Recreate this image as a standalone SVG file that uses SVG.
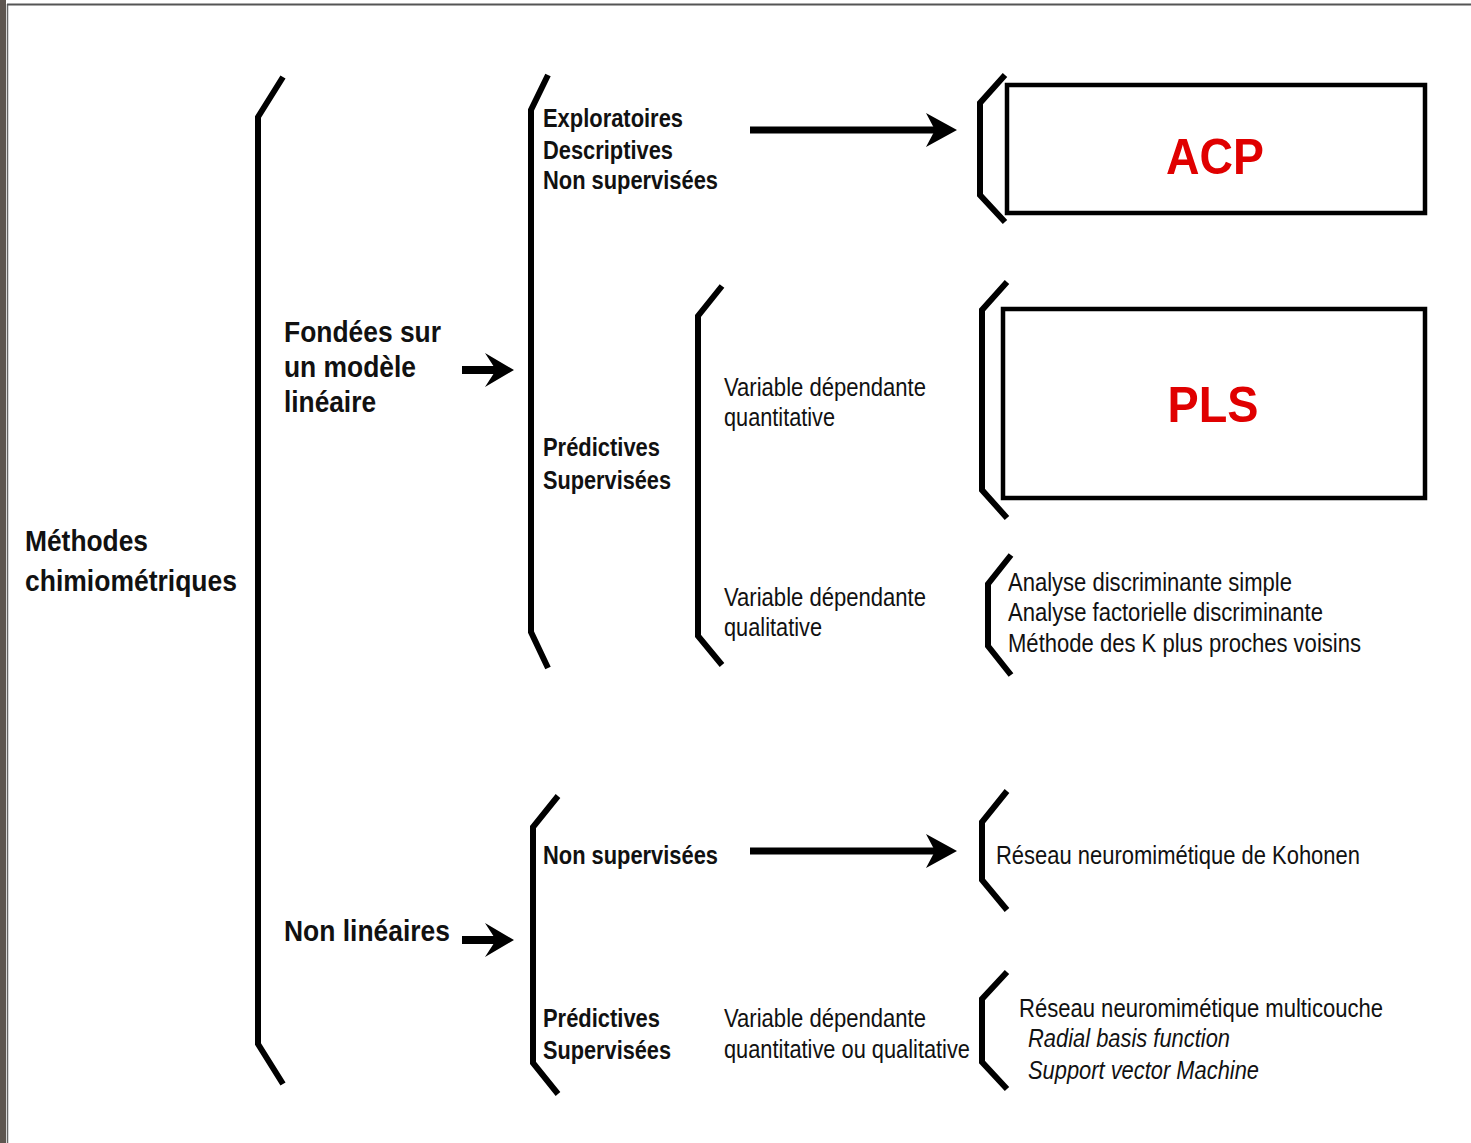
<svg xmlns="http://www.w3.org/2000/svg" width="1471" height="1143" viewBox="0 0 1471 1143">
<style>
.br{fill:none;stroke:#000;stroke-width:6;stroke-linejoin:miter;stroke-linecap:butt}
.box{fill:#fff;stroke:#000;stroke-width:4.5}
.big{font-family:"Liberation Sans",Arial,sans-serif;font-weight:bold;font-size:29px;fill:#111}
.mid{font-family:"Liberation Sans",Arial,sans-serif;font-weight:bold;font-size:25px;fill:#111}
.reg{font-family:"Liberation Sans",Arial,sans-serif;font-size:25px;fill:#111}
.it{font-family:"Liberation Sans",Arial,sans-serif;font-style:italic;font-size:25px;fill:#111}
.red{font-family:"Liberation Sans",Arial,sans-serif;font-weight:bold;font-size:50px;fill:#e00000;text-anchor:middle}
.shaft{stroke:#000;fill:none}
.head{fill:#000}
</style>
<rect x="0" y="0" width="1471" height="1143" fill="#fff"/>
<rect x="0" y="0" width="6" height="1143" fill="#5e5650"/>
<line x1="7.5" y1="4" x2="7.5" y2="1143" stroke="#666" stroke-width="1.5"/>
<line x1="7" y1="4.5" x2="1471" y2="4.5" stroke="#555" stroke-width="2"/>

<g id="connectors">
  <line class="shaft" x1="750" y1="130" x2="937" y2="130" stroke-width="7"/>
  <path class="head" d="M957,130 L926,113 L935,130 L926,147 Z"/>
  <line class="shaft" x1="750" y1="851" x2="937" y2="851" stroke-width="7"/>
  <path class="head" d="M957,851 L926,834 L935,851 L926,868 Z"/>
  <line class="shaft" x1="462" y1="370" x2="500" y2="370" stroke-width="8"/>
  <path class="head" d="M514,370 L485,353 L496,370 L485,387 Z"/>
  <line class="shaft" x1="462" y1="940" x2="500" y2="940" stroke-width="8"/>
  <path class="head" d="M514,940 L485,923 L496,940 L485,957 Z"/>
</g>

<g id="root">
  <polyline class="br" points="283,77 258,117 258,1044 283,1084"/>
  <text class="big" x="25" y="551" textLength="123" lengthAdjust="spacingAndGlyphs">Méthodes</text>
  <text class="big" x="25" y="591" textLength="212" lengthAdjust="spacingAndGlyphs">chimiométriques</text>
</g>

<g id="lineaire">
  <polyline class="br" points="548,75 531,110 531,632 548,668"/>
  <text class="big" x="284" y="342" textLength="157" lengthAdjust="spacingAndGlyphs">Fondées sur</text>
  <text class="big" x="284" y="377" textLength="132" lengthAdjust="spacingAndGlyphs">un modèle</text>
  <text class="big" x="284" y="412" textLength="92" lengthAdjust="spacingAndGlyphs">linéaire</text>
</g>

<g id="exploratoires">
  <text class="mid" x="543" y="127" textLength="140" lengthAdjust="spacingAndGlyphs">Exploratoires</text>
  <text class="mid" x="543" y="159" textLength="130" lengthAdjust="spacingAndGlyphs">Descriptives</text>
  <text class="mid" x="543" y="189" textLength="175" lengthAdjust="spacingAndGlyphs">Non supervisées</text>
</g>

<g id="acp">
  <polyline class="br" points="1005,75 980,103 980,195 1005,222"/>
  <rect class="box" x="1007" y="85" width="418" height="128"/>
  <text class="red" x="1215" y="174" textLength="98" lengthAdjust="spacingAndGlyphs">ACP</text>
</g>

<g id="predictives-lin">
  <polyline class="br" points="722,286 698,316 698,636 722,665"/>
  <text class="mid" x="543" y="456" textLength="117" lengthAdjust="spacingAndGlyphs">Prédictives</text>
  <text class="mid" x="543" y="489" textLength="128" lengthAdjust="spacingAndGlyphs">Supervisées</text>
</g>

<g id="quantitative">
  <text class="reg" x="724" y="396" textLength="202" lengthAdjust="spacingAndGlyphs">Variable dépendante</text>
  <text class="reg" x="724" y="426" textLength="111" lengthAdjust="spacingAndGlyphs">quantitative</text>
</g>

<g id="pls">
  <polyline class="br" points="1007,282 982,310 982,490 1007,518"/>
  <rect class="box" x="1003" y="309" width="422" height="189"/>
  <text class="red" x="1213" y="422" textLength="91" lengthAdjust="spacingAndGlyphs">PLS</text>
</g>

<g id="qualitative">
  <text class="reg" x="724" y="606" textLength="202" lengthAdjust="spacingAndGlyphs">Variable dépendante</text>
  <text class="reg" x="724" y="636" textLength="98" lengthAdjust="spacingAndGlyphs">qualitative</text>
</g>

<g id="discriminante">
  <polyline class="br" points="1011,555 988,584 988,646 1011,675"/>
  <text class="reg" x="1008" y="591" textLength="284" lengthAdjust="spacingAndGlyphs">Analyse discriminante simple</text>
  <text class="reg" x="1008" y="621" textLength="315" lengthAdjust="spacingAndGlyphs">Analyse factorielle discriminante</text>
  <text class="reg" x="1008" y="652" textLength="353" lengthAdjust="spacingAndGlyphs">Méthode des K plus proches voisins</text>
</g>

<g id="non-lineaires">
  <polyline class="br" points="558,796 533,827 533,1063 558,1094"/>
  <text class="big" x="284" y="941" textLength="166" lengthAdjust="spacingAndGlyphs">Non linéaires</text>
</g>

<g id="non-supervisees">
  <text class="mid" x="543" y="864" textLength="175" lengthAdjust="spacingAndGlyphs">Non supervisées</text>
</g>

<g id="kohonen">
  <polyline class="br" points="1007,791 982,822 982,880 1007,910"/>
  <text class="reg" x="996" y="864" textLength="364" lengthAdjust="spacingAndGlyphs">Réseau neuromimétique de Kohonen</text>
</g>

<g id="predictives-nl">
  <text class="mid" x="543" y="1027" textLength="117" lengthAdjust="spacingAndGlyphs">Prédictives</text>
  <text class="mid" x="543" y="1059" textLength="128" lengthAdjust="spacingAndGlyphs">Supervisées</text>
  <text class="reg" x="724" y="1027" textLength="202" lengthAdjust="spacingAndGlyphs">Variable dépendante</text>
  <text class="reg" x="724" y="1058" textLength="246" lengthAdjust="spacingAndGlyphs">quantitative ou qualitative</text>
</g>

<g id="multicouche">
  <polyline class="br" points="1007,972 982,999 982,1062 1007,1089"/>
  <text class="reg" x="1019" y="1017" textLength="364" lengthAdjust="spacingAndGlyphs">Réseau neuromimétique multicouche</text>
  <text class="it" x="1028" y="1047" textLength="202" lengthAdjust="spacingAndGlyphs">Radial basis function</text>
  <text class="it" x="1028" y="1079" textLength="231" lengthAdjust="spacingAndGlyphs">Support vector Machine</text>
</g>
</svg>
